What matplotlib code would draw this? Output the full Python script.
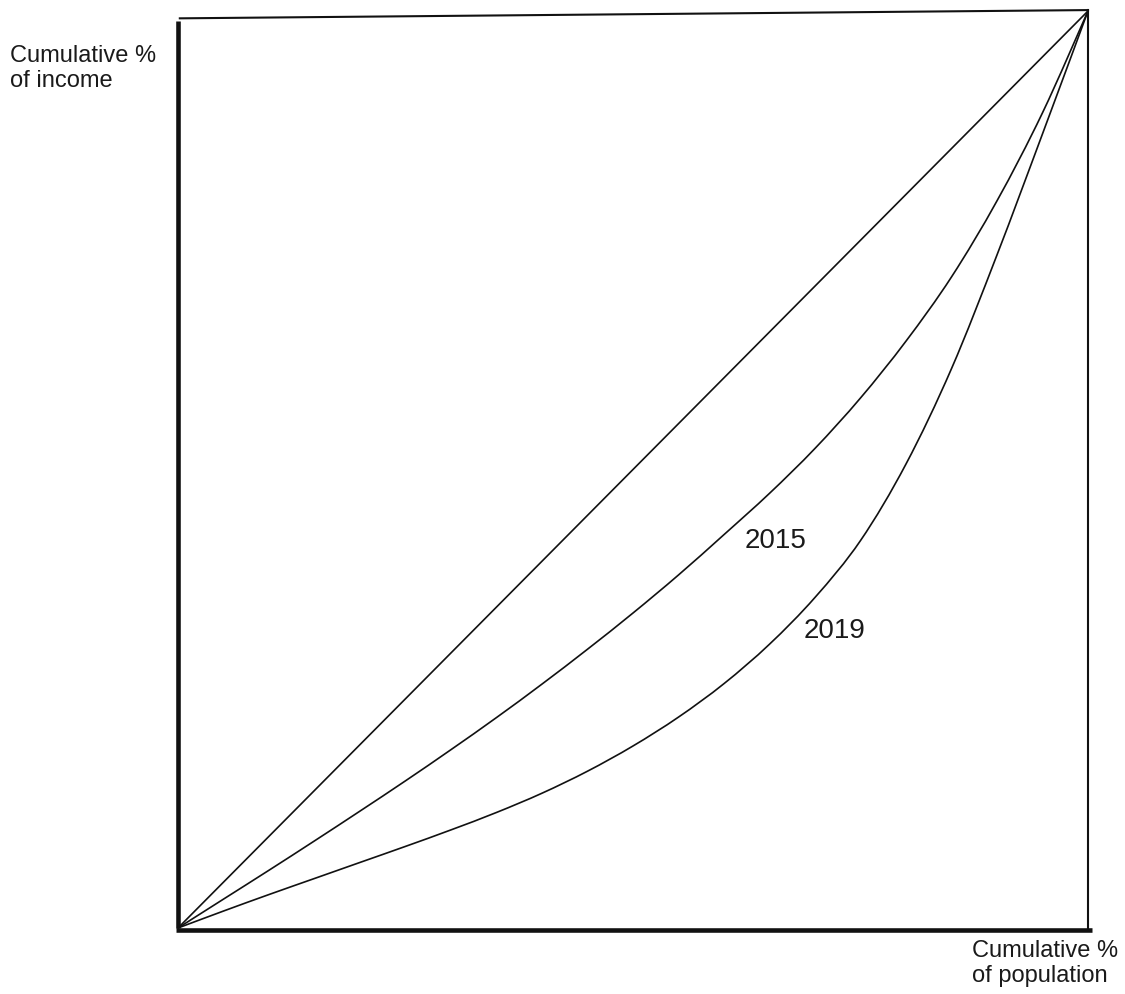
import numpy as np
import matplotlib
matplotlib.use('Agg')
import matplotlib.pyplot as plt
from matplotlib.path import Path
from matplotlib.patches import PathPatch

plt.rcParams['font.family'] = ['Liberation Sans', 'DejaVu Sans']

# cumulative % of population (x) shared by both curves
pop = [0, 5, 10, 15, 20, 25, 30, 35, 40, 45, 50, 55, 60, 65, 70, 75, 80, 85, 90, 95, 100]

# cumulative % of income
inc_2015 = [0, 3.15, 6.3, 9.5, 12.75, 16.05, 19.45, 22.95, 26.6, 30.4, 34.35, 38.5,
            42.9, 47.4, 52.3, 57.8, 64.0, 71.0, 79.3, 88.9, 100]
inc_2019 = [0, 1.85, 3.65, 5.4, 7.15, 8.9, 10.7, 12.6, 14.7, 17.1, 19.85, 23.0,
            26.65, 30.95, 36.05, 42.25, 50.6, 61.0, 73.4, 86.6, 100]

equality = [0, 100]

curve_labels = ['2015', '2019']
label_pos = [(62.3, 41.4), (68.7, 31.6)]


def smooth_path(xs, ys):
    # bezier path through the read points (catmull-rom handles), so the curve is drawn smooth
    p = np.column_stack([xs, ys]).astype(float)
    p_ext = np.vstack([p[0], p, p[-1]])
    verts = [p[0]]
    codes = [Path.MOVETO]
    for i in range(1, len(p_ext) - 2):
        p0, p1, p2, p3 = p_ext[i - 1], p_ext[i], p_ext[i + 1], p_ext[i + 2]
        verts += [p1 + (p2 - p0) / 6, p2 - (p3 - p1) / 6, p2]
        codes += [Path.CURVE4] * 3
    return Path(verts, codes)


fig = plt.figure(figsize=(11.25, 9.94), dpi=100, facecolor='w')
ax = fig.add_axes([178 / 1125, 66 / 994, 910 / 1125, 917 / 994])
ax.set_xlim(0, 100)
ax.set_ylim(0, 100)
ax.axis('off')

# the hand drawn box: heavy axes on the left and bottom, thin top and right
ax.plot([0, 0], [0, 98.9], color='#111111', lw=3.3, solid_capstyle='butt', clip_on=False)
ax.plot([-0.2, 100.4], [-0.2, -0.2], color='#111111', lw=3.3, solid_capstyle='butt', clip_on=False)
ax.plot([0.2, 100], [99.2, 100.1], color='#111111', lw=1.5, clip_on=False)
ax.plot([100, 100], [100.1, -0.2], color='#111111', lw=1.5, clip_on=False)

# line of equality and the two curves
ax.plot(equality, equality, color='#111111', lw=1.2, clip_on=False)
for inc in (inc_2015, inc_2019):
    ax.add_patch(PathPatch(smooth_path(pop, inc), facecolor='none', edgecolor='#111111',
                           lw=1.2, clip_on=False))

for lab, (x, y) in zip(curve_labels, label_pos):
    ax.text(x, y, lab, fontsize=20, ha='left', va='baseline', color='#1a1a1a')

fig.text(10 / 1125, 1 - 45 / 994, 'Cumulative %\nof income', fontsize=17,
         ha='left', va='top', color='#1a1a1a', linespacing=1.18)
fig.text(972 / 1125, 1 - 940 / 994, 'Cumulative %\nof population', fontsize=17,
         ha='left', va='top', color='#1a1a1a', linespacing=1.18)

fig.savefig('out.png', dpi=100, facecolor='w')
